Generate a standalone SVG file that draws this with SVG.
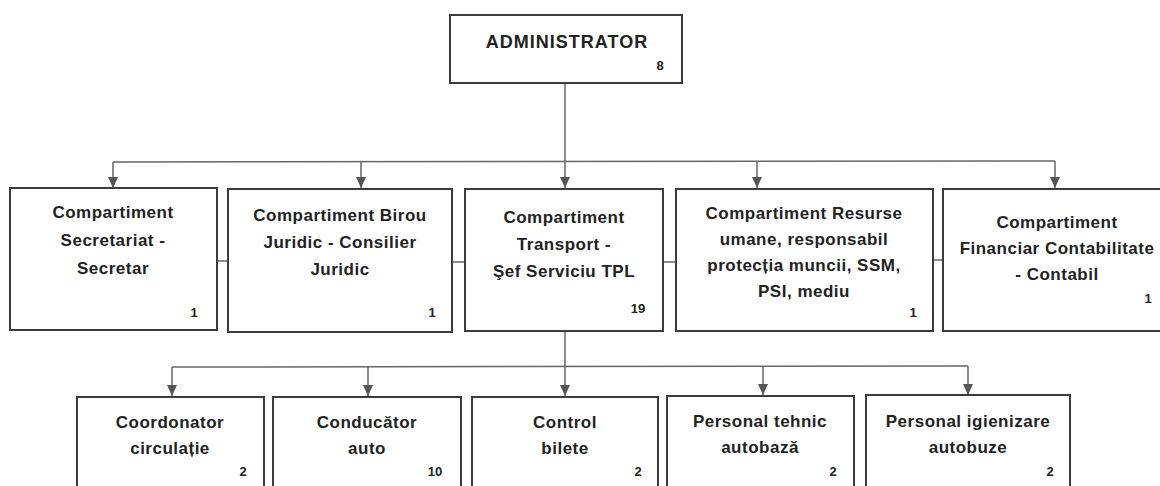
<svg xmlns="http://www.w3.org/2000/svg" width="1160" height="486" viewBox="0 0 1160 486">
<defs>
<marker id="arr" markerUnits="userSpaceOnUse" markerWidth="12" markerHeight="10" refX="11" refY="5" orient="auto">
<path d="M0,0 L11,5 L0,10 Z" fill="#555"/>
</marker>
<style>
.box{fill:#fff;stroke:#3c3c3c;stroke-width:2}
.t{font-family:"Liberation Sans",Arial,sans-serif;font-weight:bold;font-size:17px;fill:#222;text-anchor:middle;letter-spacing:0.5px}
.n{font-family:"Liberation Sans",Arial,sans-serif;font-weight:bold;font-size:13px;fill:#222;text-anchor:middle}
.c{fill:none;stroke:#666;stroke-width:1.5}
.ca{fill:none;stroke:#666;stroke-width:1.5;marker-end:url(#arr)}
</style>
</defs>
<rect width="1160" height="486" fill="#fff"/>
<g id="connectors">
<line class="c" x1="565" y1="83" x2="565" y2="162"/>
<line class="c" x1="113" y1="162" x2="1055" y2="161"/>
<line class="ca" x1="113" y1="162" x2="113" y2="188"/>
<line class="ca" x1="361" y1="162" x2="361" y2="188"/>
<line class="ca" x1="565" y1="162" x2="565" y2="188"/>
<line class="ca" x1="757" y1="162" x2="757" y2="188"/>
<line class="ca" x1="1055" y1="161" x2="1055" y2="188"/>
<line class="c" x1="217" y1="261" x2="228" y2="261"/>
<line class="c" x1="452" y1="262" x2="465" y2="262"/>
<line class="c" x1="663" y1="262" x2="676" y2="262"/>
<line class="c" x1="933" y1="260" x2="943" y2="260"/>
<line class="c" x1="565" y1="331" x2="565" y2="367"/>
<line class="c" x1="172" y1="367" x2="968" y2="366"/>
<line class="ca" x1="172" y1="367" x2="172" y2="396"/>
<line class="ca" x1="368" y1="367" x2="368" y2="396"/>
<line class="ca" x1="565" y1="367" x2="565" y2="396"/>
<line class="ca" x1="763" y1="366" x2="763" y2="395"/>
<line class="ca" x1="968" y1="366" x2="968" y2="395"/>
</g>
<g id="administrator">
<rect class="box" x="450" y="15" width="232" height="68"/>
<text class="t" x="567" y="48" style="font-size:18px;letter-spacing:1px">ADMINISTRATOR</text>
<text class="n" x="660" y="70">8</text>
</g>
<g id="secretariat">
<rect class="box" x="10" y="188" width="207" height="142"/>
<text class="t" x="113" y="218">Compartiment</text>
<text class="t" x="113" y="246">Secretariat -</text>
<text class="t" x="113" y="274">Secretar</text>
<text class="n" x="194" y="317">1</text>
</g>
<g id="juridic">
<rect class="box" x="228" y="189" width="224" height="143"/>
<text class="t" x="340" y="221">Compartiment Birou</text>
<text class="t" x="340" y="248">Juridic - Consilier</text>
<text class="t" x="340" y="275">Juridic</text>
<text class="n" x="432" y="317">1</text>
</g>
<g id="transport">
<rect class="box" x="465" y="189" width="198" height="142"/>
<text class="t" x="564" y="223">Compartiment</text>
<text class="t" x="564" y="250">Transport -</text>
<text class="t" x="564" y="277">Şef Serviciu TPL</text>
<text class="n" x="638" y="313">19</text>
</g>
<g id="resurse">
<rect class="box" x="676" y="189" width="257" height="142"/>
<text class="t" x="804" y="219">Compartiment Resurse</text>
<text class="t" x="804" y="245">umane, responsabil</text>
<text class="t" x="804" y="271">protecția muncii, SSM,</text>
<text class="t" x="804" y="297">PSI, mediu</text>
<text class="n" x="913" y="317">1</text>
</g>
<g id="financiar">
<rect class="box" x="943" y="189" width="232" height="142"/>
<text class="t" x="1057" y="228">Compartiment</text>
<text class="t" x="1057" y="254">Financiar Contabilitate</text>
<text class="t" x="1057" y="280">- Contabil</text>
<text class="n" x="1148" y="303">1</text>
</g>
<g id="coordonator">
<rect class="box" x="77" y="397" width="187" height="110"/>
<text class="t" x="170" y="428">Coordonator</text>
<text class="t" x="170" y="454">circulație</text>
<text class="n" x="243" y="476">2</text>
</g>
<g id="conducator">
<rect class="box" x="273" y="397" width="188" height="110"/>
<text class="t" x="367" y="428">Conducător</text>
<text class="t" x="367" y="454">auto</text>
<text class="n" x="435" y="476">10</text>
</g>
<g id="control">
<rect class="box" x="472" y="397" width="186" height="110"/>
<text class="t" x="565" y="428">Control</text>
<text class="t" x="565" y="454">bilete</text>
<text class="n" x="638" y="476">2</text>
</g>
<g id="tehnic">
<rect class="box" x="667" y="396" width="187" height="110"/>
<text class="t" x="760" y="427">Personal tehnic</text>
<text class="t" x="760" y="453">autobază</text>
<text class="n" x="833" y="476">2</text>
</g>
<g id="igienizare">
<rect class="box" x="866" y="395" width="204" height="110"/>
<text class="t" x="968" y="427">Personal igienizare</text>
<text class="t" x="968" y="453">autobuze</text>
<text class="n" x="1050" y="476">2</text>
</g>
</svg>
